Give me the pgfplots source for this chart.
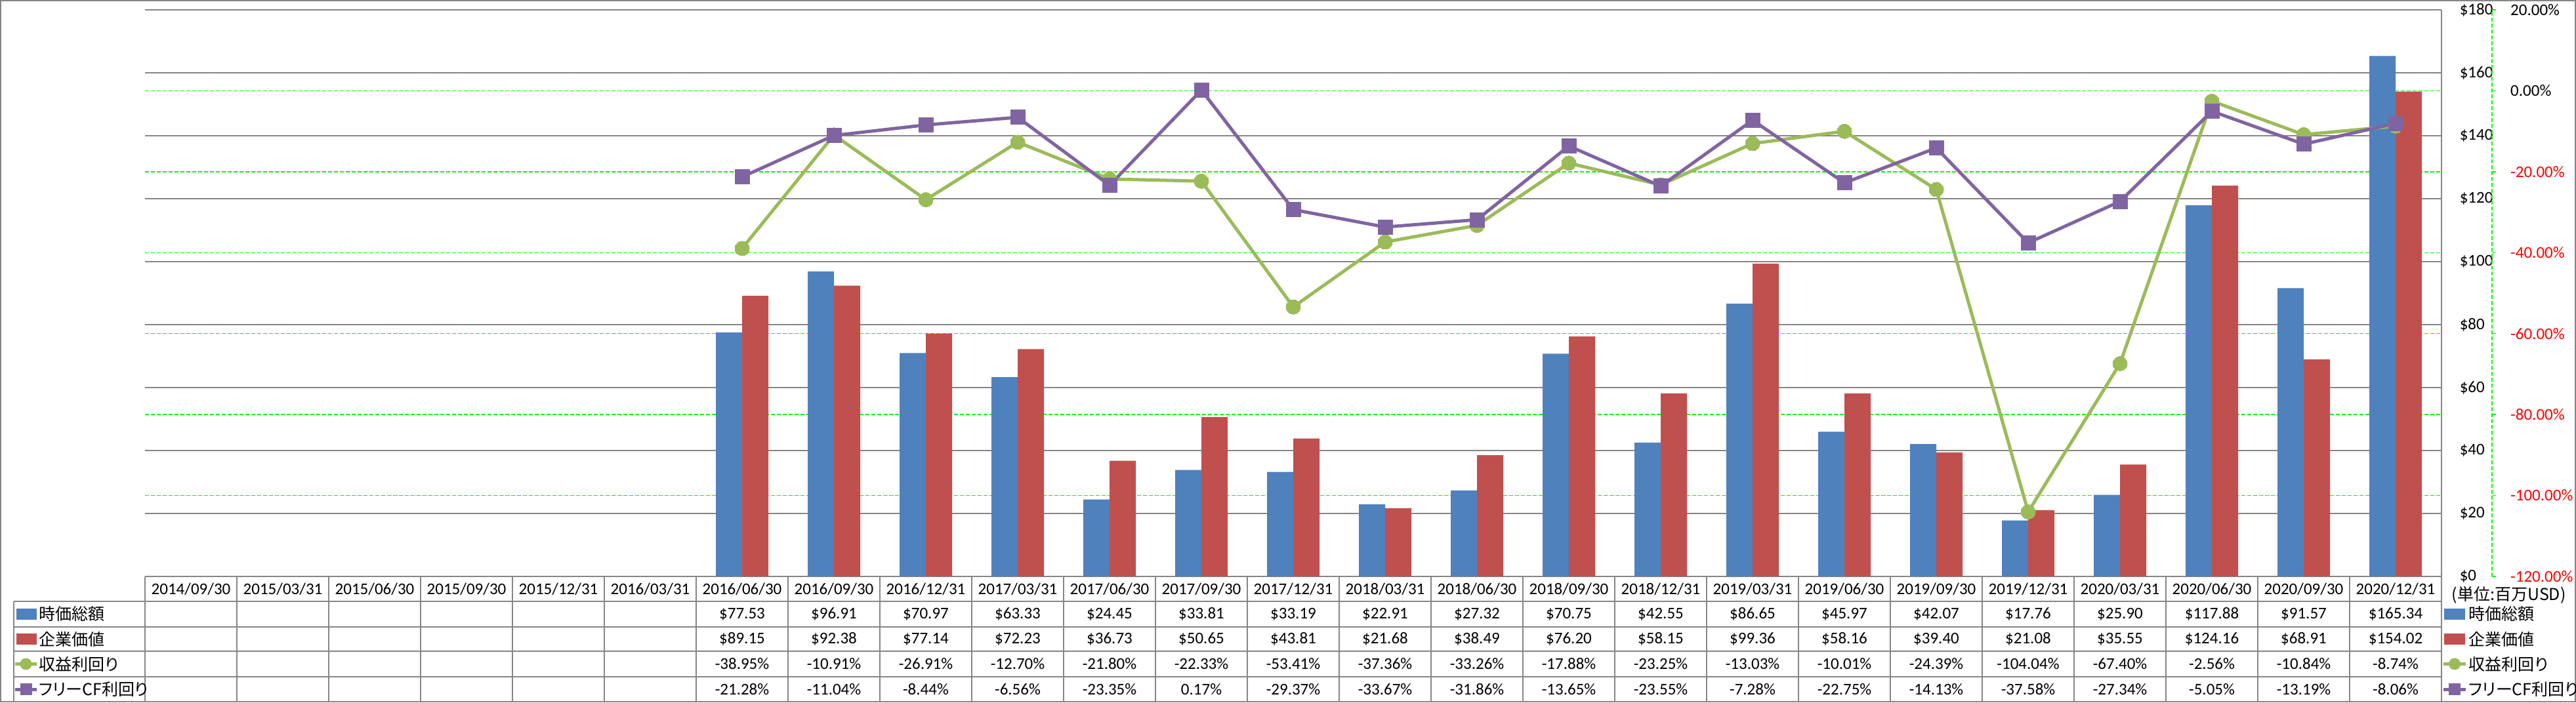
\documentclass[border=0pt]{standalone}
\usepackage{pgfplots}
\pgfplotsset{compat=1.18}
\usepackage{pgfplotstable}
\usepackage{fontspec}
\setmainfont{Carlito}
\newfontfamily\jp[RawFeature=+palt]{Noto Sans CJK JP}
\definecolor{cblue}{HTML}{4F81BD}
\definecolor{cred}{HTML}{C0504D}
\definecolor{cgreen}{HTML}{9BBB59}
\definecolor{cpurple}{HTML}{8064A2}
\definecolor{gline}{HTML}{00FF00}
\definecolor{ggray}{HTML}{868686}
\definecolor{pred}{HTML}{FF0000}

\pgfplotstableread{
x mcap ev ey fcf
6 77.53 89.15 -38.95 -21.28
7 96.91 92.38 -10.91 -11.04
8 70.97 77.14 -26.91 -8.44
9 63.33 72.23 -12.70 -6.56
10 24.45 36.73 -21.80 -23.35
11 33.81 50.65 -22.33 0.17
12 33.19 43.81 -53.41 -29.37
13 22.91 21.68 -37.36 -33.67
14 27.32 38.49 -33.26 -31.86
15 70.75 76.20 -17.88 -13.65
16 42.55 58.15 -23.25 -23.55
17 86.65 99.36 -13.03 -7.28
18 45.97 58.16 -10.01 -22.75
19 42.07 39.40 -24.39 -14.13
20 17.76 21.08 -104.04 -37.58
21 25.90 35.55 -67.40 -27.34
22 117.88 124.16 -2.56 -5.05
23 91.57 68.91 -10.84 -13.19
24 165.34 154.02 -8.74 -8.06
}\data

\begin{document}
\begin{tikzpicture}[font=\fontsize{6.25}{7.5}\selectfont]
\draw[ggray, line width=0.5pt] (0.25pt,0.25pt) rectangle (981.25pt,267.5pt);
\begin{axis}[at={(55.25pt,48pt)}, anchor=south west, scale only axis,
  width=875pt, height=216pt, xmin=-0.5, xmax=24.5, ymin=0, ymax=180,
  axis x line=none, axis y line*=right,
  axis line style={ggray, line width=0.5pt, -},
  ytick={0,20,...,180},
  yticklabels={\$0,\$20,\$40,\$60,\$80,\$100,\$120,\$140,\$160,\$180},
  ymajorgrids, major grid style={ggray, line width=0.5pt},
  major tick length=0pt,
  yticklabel style={anchor=west, xshift=3.4pt, font=\fontsize{6.25}{7.5}\selectfont},
  extra y ticks={25.714,51.429,77.143,102.857,128.571,154.286},
  extra y tick labels={},
  extra y tick style={grid=major, major grid style={gline, dash pattern=on 1.5pt off 0.75pt, line width=0.35pt}},
  ]
\addplot[ybar, bar width=10pt, bar shift=-5pt, fill=cblue, draw=none] table[x=x,y=mcap]{\data};
\addplot[ybar, bar width=10pt, bar shift=5pt, fill=cred, draw=none] table[x=x,y=ev]{\data};
\end{axis}
\begin{axis}[at={(55.25pt,48pt)}, anchor=south west, scale only axis,
  width=875pt, height=216pt, xmin=-0.5, xmax=24.5, ymin=-120, ymax=20,
  axis x line=none, axis y line*=right, axis y line shift=19.25pt,
  axis line style={gline, dash pattern=on 1.5pt off 0.75pt, line width=0.35pt, -},
  ytick={-120,-100,...,20},
  yticklabels={\textcolor{pred}{-120.00\%},\textcolor{pred}{-100.00\%},\textcolor{pred}{-80.00\%},\textcolor{pred}{-60.00\%},\textcolor{pred}{-40.00\%},\textcolor{pred}{-20.00\%},0.00\%,20.00\%},
  major tick length=1.5pt, tick align=outside,
  ytick style={gline, line width=0.35pt},
  yticklabel style={anchor=west, xshift=2pt, font=\fontsize{6.25}{7.5}\selectfont},
  ]
\addplot[cgreen, line width=1.25pt, mark=*, mark size=2.75pt, mark options={fill=cgreen, draw=cgreen, line width=0pt}] table[x=x,y=ey]{\data};
\addplot[cpurple, line width=1.25pt, mark=square*, mark size=2.75pt, mark options={fill=cpurple, draw=cpurple, line width=0pt}] table[x=x,y=fcf]{\data};
\end{axis}
\begin{scope}[x=0.25pt, y=-0.25pt, shift={(0pt,267.75pt)}]
  \begin{scope}[ggray, line width=0.5pt]
  \foreach \k in {0,...,25} \draw (221+140*\k,879) -- (221+140*\k,1070);
  \foreach \yy in {917,956,993,1032,1070} \draw (21,\yy) -- (3721,\yy);
  \draw (21,917) -- (21,1070);
  \end{scope}
  \foreach \d [count=\i from 0] in {{2014/09/30},{2015/03/31},{2015/06/30},{2015/09/30},{2015/12/31},{2016/03/31},{2016/06/30},{2016/09/30},{2016/12/31},{2017/03/31},{2017/06/30},{2017/09/30},{2017/12/31},{2018/03/31},{2018/06/30},{2018/09/30},{2018/12/31},{2019/03/31},{2019/06/30},{2019/09/30},{2019/12/31},{2020/03/31},{2020/06/30},{2020/09/30},{2020/12/31}}
    \node at (291+140*\i, 898) {\d};
  \foreach \v [count=\i from 6] in {77.53,96.91,70.97,63.33,24.45,33.81,33.19,22.91,27.32,70.75,42.55,86.65,45.97,42.07,17.76,25.90,117.88,91.57,165.34}
    \node at (291+140*\i, 936.5) {\$\v};
  \foreach \v [count=\i from 6] in {89.15,92.38,77.14,72.23,36.73,50.65,43.81,21.68,38.49,76.20,58.15,99.36,58.16,39.40,21.08,35.55,124.16,68.91,154.02}
    \node at (291+140*\i, 974.5) {\$\v};
  \foreach \v [count=\i from 6] in {-38.95,-10.91,-26.91,-12.70,-21.80,-22.33,-53.41,-37.36,-33.26,-17.88,-23.25,-13.03,-10.01,-24.39,-104.04,-67.40,-2.56,-10.84,-8.74}
    \node at (291+140*\i, 1012.5) {\v\%};
  \foreach \v [count=\i from 6] in {-21.28,-11.04,-8.44,-6.56,-23.35,0.17,-29.37,-33.67,-31.86,-13.65,-23.55,-7.28,-22.75,-14.13,-37.58,-27.34,-5.05,-13.19,-8.06}
    \node at (291+140*\i, 1051) {\v\%};
  % row headers
  \fill[cblue] (25,928) rectangle (56,945);
  \node[anchor=west, inner sep=0] at (59,936.5) {\jp 時価総額};
  \fill[cred] (25,966) rectangle (56,983);
  \node[anchor=west, inner sep=0] at (59,974.5) {\jp 企業価値};
  \draw[cgreen, line width=1.25pt] (23,1012.5) -- (56,1012.5);
  \fill[cgreen] (39.5,1012.5) circle (9);
  \node[anchor=west, inner sep=0] at (59,1012.5) {\jp 収益利回り};
  \draw[cpurple, line width=1.25pt] (23,1051) -- (56,1051);
  \fill[cpurple] (30.5,1042) rectangle (48.5,1060);
  \node[anchor=west, inner sep=0] at (59,1051) {\jp フリーCF利回り};
  % right legend
  \node[anchor=west, inner sep=0] at (3736,907) {\jp (単位:百万USD)};
  \fill[cblue] (3725,928) rectangle (3757,945);
  \node[anchor=west, inner sep=0] at (3762,936.5) {\jp 時価総額};
  \fill[cred] (3725,966) rectangle (3757,983);
  \node[anchor=west, inner sep=0] at (3762,974.5) {\jp 企業価値};
  \draw[cgreen, line width=1.25pt] (3724,1012.5) -- (3758,1012.5);
  \fill[cgreen] (3741,1012.5) circle (9);
  \node[anchor=west, inner sep=0] at (3762,1012.5) {\jp 収益利回り};
  \draw[cpurple, line width=1.25pt] (3724,1051) -- (3758,1051);
  \fill[cpurple] (3732,1042) rectangle (3750,1060);
  \node[anchor=west, inner sep=0] at (3762,1051) {\jp フリーCF利回り};
\end{scope}
\pgfresetboundingbox
\useasboundingbox (0,0) rectangle (981.5pt,267.75pt);
\end{tikzpicture}
\end{document}
